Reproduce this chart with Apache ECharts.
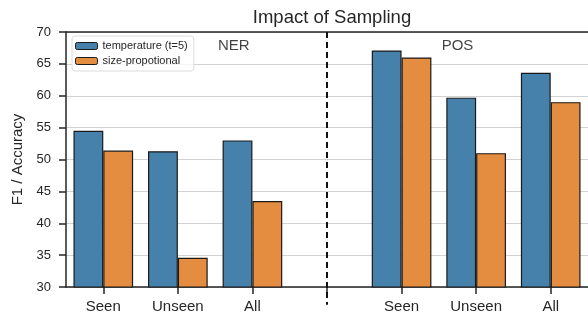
<!DOCTYPE html>
<html><head><meta charset="utf-8">
<script src="https://cdn.jsdelivr.net/npm/echarts@6/dist/echarts.min.js"></script>
<style>html,body{margin:0;padding:0;background:#fff}#c{width:588px;height:318px}</style>
</head><body><div id="c"></div>
<script>
const categories = ['Seen', 'Unseen', 'All', '', 'Seen', 'Unseen', 'All'];
const temperature = [54.5, 51.3, 53.0, null, 67.1, 59.7, 63.6];
const sizeProp = [51.4, 34.6, 43.5, null, 66.0, 51.0, 59.0];
const yTicks = {min: 30, max: 70, interval: 5};
const seriesNames = ['temperature (t=5)', 'size-propotional'];
const groupLabels = [{name: 'NER', x: 1.75, y: 67.8}, {name: 'POS', x: 4.75, y: 67.8}];
const dividerLine = [[3, 70], [3, 27.2]];

const font = 'Liberation Sans, Arial, sans-serif';
const txt = '#262626';
const chart = echarts.init(document.getElementById('c'), null, {renderer: 'canvas'});
chart.setOption({
  animation: false,
  title: {text: 'Impact of Sampling', left: 327, top: 3, textAlign: 'center',
    textStyle: {fontFamily: font, fontSize: 18.5, fontWeight: 'normal', color: txt}},
  legend: {
    data: seriesNames, left: 72, top: 36, orient: 'vertical',
    itemWidth: 22, itemHeight: 7, itemGap: 3,
    padding: [4, 6, 4, 3], borderColor: '#dcdcdc', borderWidth: 1, borderRadius: 3,
    backgroundColor: 'rgba(255,255,255,0.8)',
    textStyle: {fontFamily: font, fontSize: 11, color: txt, lineHeight: 12},
    itemStyle: {borderColor: '#1a1a1a', borderWidth: 1}
  },
  grid: {left: 66, right: -2, top: 32, bottom: 31, show: false, containLabel: false},
  xAxis: [{
    type: 'category', data: categories, position: 'bottom',
    axisLine: {show: true, onZero: false, lineStyle: {color: '#262626', width: 1.5}},
    axisTick: {show: true, inside: false, alignWithLabel: true, length: 7, lineStyle: {color: '#262626', width: 1.5}},
    axisLabel: {interval: 0, fontFamily: font, fontSize: 15, color: txt, margin: 12}
  }, {
    type: 'value', min: -0.5, max: 6.5, position: 'top', show: true,
    axisLine: {show: true, onZero: false, lineStyle: {color: '#262626', width: 1.5}},
    axisTick: {show: false}, axisLabel: {show: false}, splitLine: {show: false}
  }],
  yAxis: {
    type: 'value', min: yTicks.min, max: yTicks.max, interval: yTicks.interval, position: 'left',
    name: 'F1 / Accuracy', nameLocation: 'middle', nameGap: 37, nameRotate: 90,
    nameTextStyle: {fontFamily: font, fontSize: 15, color: txt},
    axisLine: {show: true, onZero: false, lineStyle: {color: '#262626', width: 1.5}},
    axisTick: {show: true, inside: false, length: 7, lineStyle: {color: '#262626', width: 1.5}},
    axisLabel: {fontFamily: font, fontSize: 13, color: txt, margin: 15},
    splitLine: {show: true, lineStyle: {color: '#d2d2d2', width: 1}}
  },
  series: [{
    name: seriesNames[0], type: 'bar', data: temperature, barGap: '0%', barCategoryGap: '20%',
    itemStyle: {color: '#4581aa', borderColor: '#1a1a1a', borderWidth: 1.2}
  }, {
    name: seriesNames[1], type: 'bar', data: sizeProp,
    itemStyle: {color: '#e48c40', borderColor: '#1a1a1a', borderWidth: 1.2}
  }, {
    name: 'labels', type: 'scatter', xAxisIndex: 1, symbolSize: 0,
    data: groupLabels.map(g => ({name: g.name, value: [g.x, g.y]})),
    label: {show: true, position: 'inside', formatter: p => p.name, fontFamily: font, fontSize: 15, color: '#111'},
    z: 5
  }, {
    name: 'divider', type: 'line', xAxisIndex: 1, data: dividerLine, clip: false,
    symbol: 'none', silent: true,
    lineStyle: {color: '#111', type: [6, 4], width: 2},
    z: 6
  }]
});
</script></body></html>
